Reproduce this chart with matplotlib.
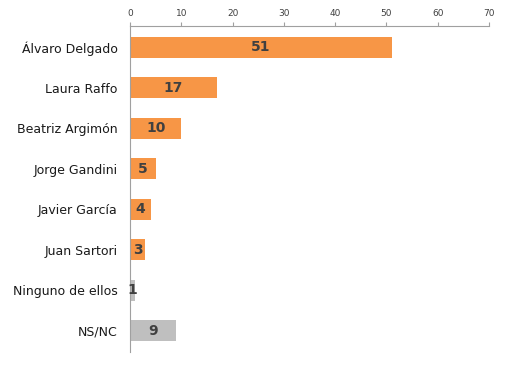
import matplotlib
matplotlib.use("Agg")
import matplotlib.pyplot as plt

categories = ["Álvaro Delgado", "Laura Raffo", "Beatriz Argimón", "Jorge Gandini",
              "Javier García", "Juan Sartori", "Ninguno de ellos", "NS/NC"]
values = [51, 17, 10, 5, 4, 3, 1, 9]
colors = ["#F79646"] * 6 + ["#BFBFBF"] * 2
ticks = [0, 10, 20, 30, 40, 50, 60, 70]

fig = plt.figure(figsize=(5.07, 3.70), dpi=100)
ax = fig.add_axes([0.2564, 0.0486, 0.708, 0.8811])
y = list(range(len(categories)))
ax.barh(y, values, height=0.52, color=colors)
ax.set_ylim(7.52, -0.52)
ax.set_xlim(0, 70)
ax.xaxis.tick_top()
ax.set_xticks(ticks)
ax.tick_params(axis="x", colors="#A0A0A0", labelcolor="#404040", labelsize=6.5, length=3, pad=3)
ax.set_yticks(y)
ax.set_yticklabels(categories, fontsize=9, color="#1a1a1a")
ax.tick_params(axis="y", length=0, pad=9)
for s in ["right", "bottom"]:
    ax.spines[s].set_visible(False)
ax.spines["top"].set_color("#A0A0A0")
ax.spines["left"].set_color("#A0A0A0")
for yi, v in zip(y, values):
    ax.text(v / 2, yi, str(v), ha="center", va="center", fontsize=10,
            fontweight="bold", color="#404040")
fig.savefig("out.png", dpi=100)
